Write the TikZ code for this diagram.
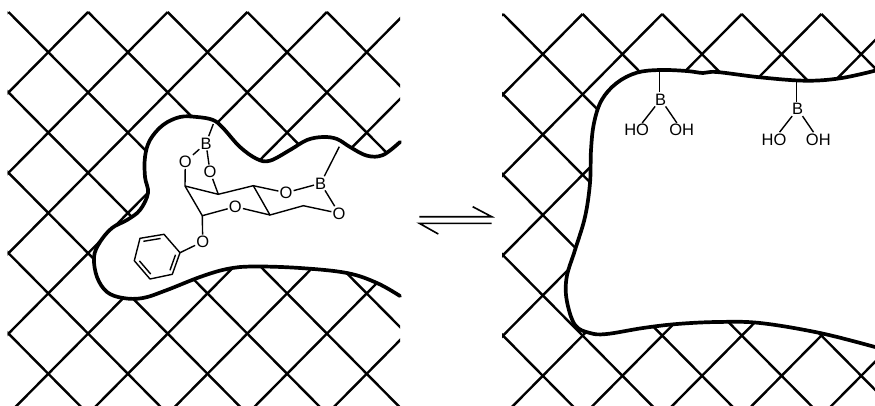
\documentclass[tikz,border=0pt]{standalone}
\usepackage{fontspec}
\usetikzlibrary{calc}
\setmainfont{Liberation Sans}
\begin{document}
\begin{tikzpicture}[x=1pt,y=-1pt,
  latticeline/.style={line width=2.4pt,black},
  wall/.style={line width=3.7pt,black,line join=round,line cap=round},
  atom/.style={inner sep=1pt,font=\fontsize{16.5}{16.5}\selectfont,text height=11.8pt,text depth=0pt},
  bond/.style={line width=1.4pt,black},
  eqline/.style={line width=1.6pt,black}]
\useasboundingbox (0,0) rectangle (875,405);
% left lattice
\begin{scope}
\clip (7.5,11) rectangle (400,405);
\foreach \k in {-6,...,6}{
  \draw[latticeline] ({8.5+79.6*\k},12) -- ++(450,454.5);
}
\foreach \k in {0,...,12}{
  \draw[latticeline] ({8.5+79.6*\k},12) -- ++(-450,454.5);
}
\end{scope}
% right lattice
\begin{scope}
\clip (502,13) rectangle (875,405);
\foreach \k in {-6,...,6}{
  \draw[latticeline] ({503+79.6*\k},14) -- ++(450,454.5);
}
\foreach \k in {0,...,12}{
  \draw[latticeline] ({503+79.6*\k},14) -- ++(-450,454.5);
}
\end{scope}
% left cavity
\def\leftwall{(400,142) (383,155) (367,155.7) (350,147) (337,139) (323,137) (307,140) (290,150) (270,160.7) (257,159) (240,147) (223,128) (213,120) (197,117) (180,117) (163,125) (150,140) (145,157) (145,177) (148,193) (140,210) (127,220) (112,228) (100,242) (94,257) (97,277) (107,292) (123,298) (143,298) (167,290) (200,277) (227,269) (253,266.5) (300,268) (347,273) (377,283) (400,296)}
\fill[white] plot[smooth,tension=0.6] coordinates {\leftwall} -- (401,296) -- (401,142) -- cycle;
\draw[wall] plot[smooth,tension=0.6] coordinates {\leftwall};
% right cavity
\def\rightwall{(875,70.7) (840,78.3) (805,80.7) (760,77.3) (716.7,72) (703,73) (686.7,71) (660,70) (636.7,72.7) (616.7,83) (601.7,100) (594,123) (591,150) (590,183) (585,217) (575,250) (566.7,277) (566.7,300) (575,325) (590,333) (606.7,334) (643,328) (677,324) (717,322) (760,323) (820,333) (875,347)}
\fill[white] plot[smooth,tension=0.6] coordinates {\rightwall} -- (876,347) -- (876,70) -- cycle;
\draw[wall] plot[smooth,tension=0.6] coordinates {\rightwall};
% molecule
\node[atom] (B1) at (206,143.3) {B};
\node[atom] (O1) at (185.3,161.7) {O};
\node[atom] (O2) at (210,171.7) {O};
\node[atom] (O3) at (286,192.7) {O};
\node[atom] (B2) at (320.7,183.3) {B};
\node[atom] (O4) at (339,213.3) {O};
\node[atom] (O5) at (235.3,206.7) {O};
\node[atom] (O6) at (202.7,241.7) {O};
\coordinate (C1) at (185,186);
\coordinate (C2) at (218.3,194.3);
\coordinate (C3) at (253.3,185.7);
\coordinate (C5) at (303.3,205.7);
\coordinate (C6) at (270,215);
\coordinate (C7) at (202.3,215.7);
\coordinate (W1) at (213.3,124);
\coordinate (W2) at (339.3,146.7);
\coordinate (P1) at (180,252.7);
\coordinate (P2) at (164,234.3);
\coordinate (P3) at (140,238.3);
\coordinate (P4) at (134.3,260.7);
\coordinate (P5) at (150,279);
\coordinate (P6) at (172.3,274.3);
\draw[bond] (W1) -- (B1);
\draw[bond] (B1) -- (O1);
\draw[bond] (B1) -- (O2);
\draw[bond] (O1) -- (C1);
\draw[bond] (O2) -- (C2);
\draw[bond] (C1) -- (C2) -- (C3) -- (O3);
\draw[bond] (O3) -- (B2);
\draw[bond] (W2) -- (B2);
\draw[bond] (B2) -- (O4);
\draw[bond] (O4) -- (C5) -- (C6) -- (C3);
\draw[bond] (C6) -- (O5);
\draw[bond] (O5) -- (C7) -- (C1);
\draw[bond] (C7) -- (O6);
\draw[bond] (O6) -- (P1);
\draw[bond,line join=round] (P1) -- (P2) -- (P3) -- (P4) -- (P5) -- (P6) -- cycle;
\draw[bond] ($(P2)!0.14!(P3)+(0,3.6)$) -- ($(P2)!0.86!(P3)+(0,3.6)$);
\draw[bond] ($(P4)!0.14!(P5)+(2.9,-2.4)$) -- ($(P4)!0.86!(P5)+(2.9,-2.4)$);
\draw[bond] ($(P6)!0.14!(P1)+(-3.4,-1)$) -- ($(P6)!0.86!(P1)+(-3.4,-1)$);
% free boronic acids
\node[atom] (B3) at (660.7,99.3) {B};
\node[atom] (H1) at (636.7,130) {HO};
\node[atom] (H2) at (681.7,130) {OH};
\node[atom] (B4) at (797.7,109) {B};
\node[atom] (H3) at (774,139.3) {HO};
\node[atom] (H4) at (818.3,139.3) {OH};
\coordinate (W3) at (659.3,71.7);
\coordinate (W4) at (796.7,81.7);
\draw[bond] (W3) -- (W3 |- B3.north);
\draw[bond] (B3) -- (H1);
\draw[bond] (B3) -- (H2);
\draw[bond] (W4) -- (W4 |- B4.north);
\draw[bond] (B4) -- (H3);
\draw[bond] (B4) -- (H4);
% equilibrium arrows
\coordinate (E1) at (419.3,216.7);
\coordinate (E2) at (491.7,216.7);
\coordinate (E3) at (472.7,206.7);
\coordinate (E4) at (419.3,223.3);
\coordinate (E5) at (491.7,223.3);
\coordinate (E6) at (438.3,234);
\draw[eqline,line join=miter] (E1) -- (E2) -- (E3);
\draw[eqline,line join=miter] (E5) -- (E4) -- (E6);
\end{tikzpicture}
\end{document}
